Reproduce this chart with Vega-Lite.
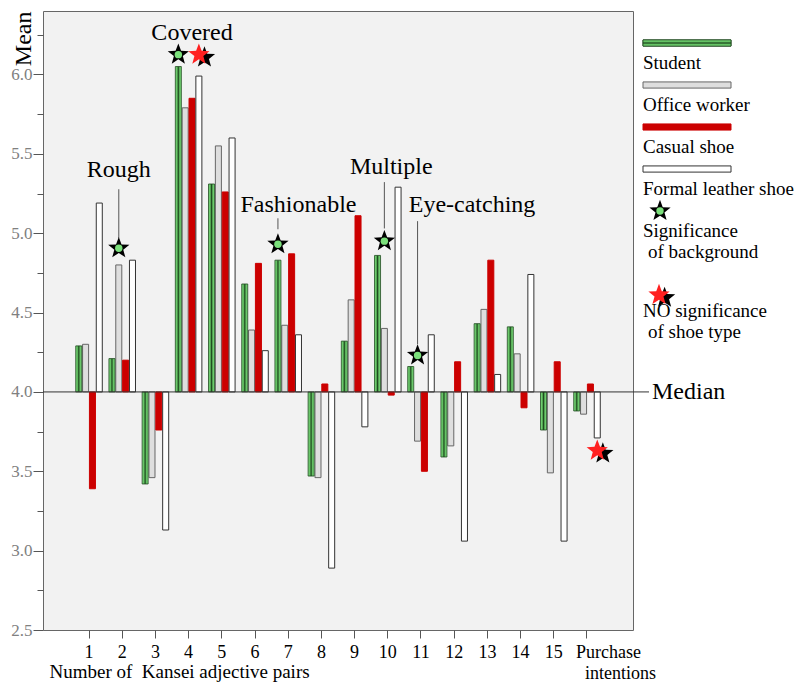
{
  "$schema": "https://vega.github.io/schema/vega-lite/v6.json",
  "padding": {"left": 10, "top": 10, "right": 0, "bottom": 0},
  "bounds": "flush",
  "spacing": 10,
  "config": {"view": {"stroke": null}, "font": "Liberation Serif"},
  "datasets": {
    "bars": [
      {"g":"1","s":"Student","v":4.29},{"g":"1","s":"Office worker","v":4.30},{"g":"1","s":"Casual shoe","v":3.39},{"g":"1","s":"Formal leather shoe","v":5.19},
      {"g":"2","s":"Student","v":4.21},{"g":"2","s":"Office worker","v":4.80},{"g":"2","s":"Casual shoe","v":4.20},{"g":"2","s":"Formal leather shoe","v":4.83},
      {"g":"3","s":"Student","v":3.42},{"g":"3","s":"Office worker","v":3.46},{"g":"3","s":"Casual shoe","v":3.76},{"g":"3","s":"Formal leather shoe","v":3.13},
      {"g":"4","s":"Student","v":6.05},{"g":"4","s":"Office worker","v":5.79},{"g":"4","s":"Casual shoe","v":5.85},{"g":"4","s":"Formal leather shoe","v":5.99},
      {"g":"5","s":"Student","v":5.31},{"g":"5","s":"Office worker","v":5.55},{"g":"5","s":"Casual shoe","v":5.26},{"g":"5","s":"Formal leather shoe","v":5.60},
      {"g":"6","s":"Student","v":4.68},{"g":"6","s":"Office worker","v":4.39},{"g":"6","s":"Casual shoe","v":4.81},{"g":"6","s":"Formal leather shoe","v":4.26},
      {"g":"7","s":"Student","v":4.83},{"g":"7","s":"Office worker","v":4.42},{"g":"7","s":"Casual shoe","v":4.87},{"g":"7","s":"Formal leather shoe","v":4.36},
      {"g":"8","s":"Student","v":3.47},{"g":"8","s":"Office worker","v":3.46},{"g":"8","s":"Casual shoe","v":4.05},{"g":"8","s":"Formal leather shoe","v":2.89},
      {"g":"9","s":"Student","v":4.32},{"g":"9","s":"Office worker","v":4.58},{"g":"9","s":"Casual shoe","v":5.11},{"g":"9","s":"Formal leather shoe","v":3.78},
      {"g":"10","s":"Student","v":4.86},{"g":"10","s":"Office worker","v":4.40},{"g":"10","s":"Casual shoe","v":3.98},{"g":"10","s":"Formal leather shoe","v":5.29},
      {"g":"11","s":"Student","v":4.16},{"g":"11","s":"Office worker","v":3.69},{"g":"11","s":"Casual shoe","v":3.50},{"g":"11","s":"Formal leather shoe","v":4.36},
      {"g":"12","s":"Student","v":3.59},{"g":"12","s":"Office worker","v":3.66},{"g":"12","s":"Casual shoe","v":4.19},{"g":"12","s":"Formal leather shoe","v":3.06},
      {"g":"13","s":"Student","v":4.43},{"g":"13","s":"Office worker","v":4.52},{"g":"13","s":"Casual shoe","v":4.83},{"g":"13","s":"Formal leather shoe","v":4.11},
      {"g":"14","s":"Student","v":4.41},{"g":"14","s":"Office worker","v":4.24},{"g":"14","s":"Casual shoe","v":3.90},{"g":"14","s":"Formal leather shoe","v":4.74},
      {"g":"15","s":"Student","v":3.76},{"g":"15","s":"Office worker","v":3.49},{"g":"15","s":"Casual shoe","v":4.19},{"g":"15","s":"Formal leather shoe","v":3.06},
      {"g":"Purchase intentions","s":"Student","v":3.88},{"g":"Purchase intentions","s":"Office worker","v":3.86},{"g":"Purchase intentions","s":"Casual shoe","v":4.05},{"g":"Purchase intentions","s":"Formal leather shoe","v":3.71}
    ],
    "stars": [
      {"g":"2","s":"Office worker","v":4.905,"t":"bg"},
      {"g":"4","s":"Student","v":6.125,"t":"bg"},
      {"g":"4","s":"Formal leather shoe","v":6.125,"t":"shoe"},
      {"g":"7","s":"Student","v":4.93,"t":"bg"},
      {"g":"10","s":"Office worker","v":4.95,"t":"bg"},
      {"g":"11","s":"Office worker","v":4.23,"t":"bg"},
      {"g":"Purchase intentions","s":"Formal leather shoe","v":3.63,"t":"shoe"}
    ],
    "lines": [
      {"g":"2","s":"Office worker","a":5.277,"b":4.968},
      {"g":"7","s":"Student","a":5.094,"b":5.025},
      {"g":"10","s":"Office worker","a":5.322,"b":5.03},
      {"g":"11","s":"Office worker","a":5.076,"b":4.30}
    ],
    "notes": [
      {"g":"2","s":"Office worker","v":5.353,"text":"Rough","al":"c"},
      {"g":"4","s":"Casual shoe","v":6.216,"text":"Covered","al":"c"},
      {"g":"7","s":"Formal leather shoe","v":5.132,"text":"Fashionable","al":"c"},
      {"g":"10","s":"Casual shoe","v":5.371,"text":"Multiple","al":"c"},
      {"g":"11","s":"Student","v":5.135,"text":"Eye-catching","al":"l"}
    ],
    "legend": [
      {"slot":0,"kind":"sw","s":"Student"},
      {"slot":1,"kind":"tx","label":"Student"},
      {"slot":2,"kind":"sw","s":"Office worker"},
      {"slot":3,"kind":"tx","label":"Office worker"},
      {"slot":4,"kind":"sw","s":"Casual shoe"},
      {"slot":5,"kind":"tx","label":"Casual shoe"},
      {"slot":6,"kind":"sw","s":"Formal leather shoe"},
      {"slot":7,"kind":"tx","label":"Formal leather shoe"},
      {"slot":8,"kind":"bg"},
      {"slot":9,"kind":"tx","label":"Significance"},
      {"slot":10,"kind":"tx2","label":"of background"},
      {"slot":12,"kind":"shoe"},
      {"slot":12.8,"kind":"tx","label":"NO significance"},
      {"slot":13.8,"kind":"tx2","label":"of shoe type"}
    ]
  },
  "hconcat": [
    {
      "width": 590,
      "height": 619,
      "view": {"fill": "#f2f2f2", "stroke": "#666666", "strokeWidth": 1},
      "resolve": {"axis": {"y": "independent"}},
      "layer": [
        {
          "data": {"name": "bars"},
          "transform": [{"filter": "datum.s != 'Student'"}],
          "mark": {"type": "bar", "strokeWidth": 1},
          "encoding": {
            "x": {
              "field": "g", "type": "nominal",
              "scale": {"domain": ["1","2","3","4","5","6","7","8","9","10","11","12","13","14","15","Purchase intentions"], "paddingInner": 0.2, "paddingOuter": 0.986},
              "axis": {
                "labelExpr": "datum.value == 'Purchase intentions' ? ['Purchase', '\u200b\u00a0\u00a0intentions'] : datum.value",
                "labelAngle": 0, "labelFontSize": 18, "labelColor": "#000000", "labelPadding": 5, "labelLineHeight": 21,
                "labelFont": "Liberation Serif", "labelBaseline": "top", "labelOverlap": false,
                "labelAlign": {"condition": {"test": "datum.value == 'Purchase intentions'", "value": "left"}, "value": "center"},
                "labelOffset": {"condition": {"test": "datum.value == 'Purchase intentions'", "value": -11}, "value": 0},
                "ticks": true, "tickSize": 8, "tickColor": "#555555", "tickWidth": 1, "domain": false, "grid": false,
                "title": "Number of\u00a0 Kansei adjective pairs", "titleFont": "Liberation Serif", "titleFontSize": 19, "titleFontWeight": "normal", "titleColor": "#000000",
                "titleAnchor": "start", "titleAlign": "left", "titleX": 6, "titleY": 47, "titleBaseline": "alphabetic"
              }
            },
            "xOffset": {"field": "s", "type": "nominal", "scale": {"domain": ["Student","Office worker","Casual shoe","Formal leather shoe"], "paddingInner": 0.12, "paddingOuter": 0}},
            "y": {
              "field": "v", "type": "quantitative",
              "scale": {"domain": [2.5, 6.4], "nice": false, "zero": false},
              "axis": {
                "values": [2.5, 3, 3.5, 4, 4.5, 5, 5.5, 6],
                "format": ".1f",
                "ticks": true, "tickSize": 10,
                "tickColor": "#555555", "tickWidth": 1, "domain": false, "grid": false,
                "labelFontSize": 17, "labelColor": "#808080", "labelPadding": 1, "labelOverlap": false, "labelFont": "Liberation Serif",
                "title": "Mean", "titleFont": "Liberation Serif", "titleFontSize": 24, "titleFontWeight": "normal", "titleColor": "#000000",
                "titleAngle": -90, "titleX": -13, "titleY": 0, "titleAlign": "right", "titleBaseline": "alphabetic"
              }
            },
            "y2": {"datum": 4},
            "fill": {"field": "s", "type": "nominal", "scale": {"domain": ["Student","Office worker","Casual shoe","Formal leather shoe"], "range": ["#6fcf6f", "#dedede", "#cc0000", "#ffffff"]}, "legend": null},
            "stroke": {"field": "s", "type": "nominal", "scale": {"domain": ["Student","Office worker","Casual shoe","Formal leather shoe"], "range": ["#1f4a1f", "#666666", "#cc0000", "#333333"]}, "legend": null}
          }
        },
        {
          "data": {"name": "bars"},
          "transform": [{"filter": "datum.s == 'Student'"}],
          "mark": {
            "type": "bar", "stroke": "#1f4a1f", "strokeWidth": 0.8,
            "fill": {"gradient": "linear", "x1": 0, "y1": 0, "x2": 1, "y2": 0, "stops": [
              {"offset": 0, "color": "#80dd80"}, {"offset": 0.28, "color": "#62c062"}, {"offset": 0.5, "color": "#1f4a1f"}, {"offset": 0.72, "color": "#62c062"}, {"offset": 1, "color": "#80dd80"}]}
          },
          "encoding": {
            "x": {"field": "g", "type": "nominal"},
            "xOffset": {"field": "s", "type": "nominal"},
            "y": {"field": "v", "type": "quantitative",
              "axis": {"orient": "left", "values": [2.75, 3.25, 3.75, 4.25, 4.75, 5.25, 5.75, 6.25], "labels": false, "ticks": true, "tickSize": 6, "tickColor": "#555555", "tickWidth": 1, "domain": false, "grid": false, "title": null}},
            "y2": {"datum": 4}
          }
        },
        {
          "data": {"values": [{}]},
          "mark": {"type": "rule", "x": 0, "x2": {"expr": "concat_0_width + 16"}, "color": "#333333", "strokeWidth": 1, "clip": false},
          "encoding": {"y": {"datum": 4, "axis": null}}
        },
        {
          "data": {"values": [{}]},
          "mark": {"type": "text", "text": "Median", "x": {"expr": "concat_0_width + 19"}, "align": "left", "baseline": "middle", "fontSize": 24, "font": "Liberation Serif", "color": "#000000"},
          "encoding": {"y": {"datum": 4, "axis": null}}
        },
        {
          "data": {"name": "lines"},
          "mark": {"type": "rule", "color": "#555555", "strokeWidth": 1},
          "encoding": {
            "x": {"field": "g", "type": "nominal"},
            "xOffset": {"field": "s", "type": "nominal"},
            "y": {"field": "a", "type": "quantitative", "axis": null},
            "y2": {"field": "b"}
          }
        },
        {
          "data": {"name": "stars"},
          "transform": [{"filter": "datum.t == 'bg'"}],
          "mark": {"type": "point", "filled": true, "opacity": 1, "strokeWidth": 0, "size": 500, "color": "#000000",
            "shape": "M0,-1L0.247,-0.34L0.951,-0.309L0.399,0.13L0.588,0.809L0,0.42L-0.588,0.809L-0.399,0.13L-0.951,-0.309L-0.247,-0.34Z"},
          "encoding": {
            "x": {"field": "g", "type": "nominal"},
            "xOffset": {"field": "s", "type": "nominal"},
            "y": {"field": "v", "type": "quantitative", "axis": null}
          }
        },
        {
          "data": {"name": "stars"},
          "transform": [{"filter": "datum.t == 'bg'"}],
          "mark": {"type": "point", "filled": true, "opacity": 1, "strokeWidth": 0, "size": 55, "shape": "circle", "color": "#7be07b"},
          "encoding": {
            "x": {"field": "g", "type": "nominal"},
            "xOffset": {"field": "s", "type": "nominal"},
            "y": {"field": "v", "type": "quantitative", "axis": null}
          }
        },
        {
          "data": {"name": "stars"},
          "transform": [{"filter": "datum.t == 'shoe'"}],
          "mark": {"type": "point", "filled": true, "opacity": 1, "strokeWidth": 0, "size": 500, "color": "#000000",
            "shape": "M0.5,-0.75L0.747,-0.09L1.451,-0.059L0.899,0.38L1.088,1.059L0.5,0.67L-0.088,1.059L0.101,0.38L-0.451,-0.059L0.253,-0.09Z"},
          "encoding": {
            "x": {"field": "g", "type": "nominal"},
            "xOffset": {"field": "s", "type": "nominal"},
            "y": {"field": "v", "type": "quantitative", "axis": null}
          }
        },
        {
          "data": {"name": "stars"},
          "transform": [{"filter": "datum.t == 'shoe'"}],
          "mark": {"type": "point", "filled": true, "opacity": 1, "strokeWidth": 0, "size": 500, "color": "#ff2020",
            "shape": "M0,-1L0.247,-0.34L0.951,-0.309L0.399,0.13L0.588,0.809L0,0.42L-0.588,0.809L-0.399,0.13L-0.951,-0.309L-0.247,-0.34Z"},
          "encoding": {
            "x": {"field": "g", "type": "nominal"},
            "xOffset": {"field": "s", "type": "nominal"},
            "y": {"field": "v", "type": "quantitative", "axis": null}
          }
        },
        {
          "data": {"name": "notes"},
          "transform": [{"filter": "datum.al == 'c'"}],
          "mark": {"type": "text", "align": "center", "baseline": "alphabetic", "fontSize": 24, "font": "Liberation Serif", "color": "#000000"},
          "encoding": {
            "x": {"field": "g", "type": "nominal"},
            "xOffset": {"field": "s", "type": "nominal"},
            "y": {"field": "v", "type": "quantitative", "axis": null},
            "text": {"field": "text"}
          }
        },
        {
          "data": {"name": "notes"},
          "transform": [{"filter": "datum.al == 'l'"}],
          "mark": {"type": "text", "align": "left", "baseline": "alphabetic", "fontSize": 24, "font": "Liberation Serif", "color": "#000000", "dx": -2},
          "encoding": {
            "x": {"field": "g", "type": "nominal"},
            "xOffset": {"field": "s", "type": "nominal"},
            "y": {"field": "v", "type": "quantitative", "axis": null},
            "text": {"field": "text"}
          }
        }
      ]
    },
    {
      "width": 88,
      "height": 619,
      "data": {"name": "legend"},
      "encoding": {
        "y": {"field": "slot", "type": "quantitative", "scale": {"domain": [-1.524, 27.95], "reverse": true, "nice": false, "zero": false}, "axis": null}
      },
      "layer": [
        {
          "transform": [{"filter": "datum.kind == 'sw'"}],
          "mark": {"type": "point", "filled": true, "opacity": 1, "strokeWidth": 1, "size": 7744, "shape": "M-1,-0.07L1,-0.07L1,0.07L-1,0.07Z"},
          "encoding": {
            "x": {"datum": 44, "type": "quantitative", "scale": {"domain": [0, 88], "nice": false, "zero": false}, "axis": null},
            "fill": {"field": "s", "type": "nominal", "scale": {"domain": ["Student","Office worker","Casual shoe","Formal leather shoe"], "range": ["#6fcf6f", "#dedede", "#cc0000", "#ffffff"]}, "legend": null},
            "stroke": {"field": "s", "type": "nominal", "scale": {"domain": ["Student","Office worker","Casual shoe","Formal leather shoe"], "range": ["#1f4a1f", "#666666", "#cc0000", "#333333"]}, "legend": null}
          }
        },
        {
          "transform": [{"filter": "datum.s == 'Student'"}],
          "mark": {"type": "point", "filled": true, "opacity": 1, "strokeWidth": 0.8, "stroke": "#1f4a1f", "size": 7744, "shape": "M-1,-0.07L1,-0.07L1,0.07L-1,0.07Z",
            "fill": {"gradient": "linear", "x1": 0, "y1": 0, "x2": 0, "y2": 1, "stops": [
              {"offset": 0, "color": "#80dd80"}, {"offset": 0.28, "color": "#62c062"}, {"offset": 0.5, "color": "#1f4a1f"}, {"offset": 0.72, "color": "#62c062"}, {"offset": 1, "color": "#80dd80"}]}},
          "encoding": {"x": {"datum": 44, "type": "quantitative"}}
        },
        {
          "transform": [{"filter": "datum.kind == 'tx'"}],
          "mark": {"type": "text", "align": "left", "baseline": "middle", "fontSize": 19, "font": "Liberation Serif", "color": "#000000", "dy": -1},
          "encoding": {"x": {"datum": 0, "type": "quantitative"}, "text": {"field": "label"}}
        },
        {
          "transform": [{"filter": "datum.kind == 'tx2'"}],
          "mark": {"type": "text", "align": "left", "baseline": "middle", "fontSize": 19, "font": "Liberation Serif", "color": "#000000", "dy": -1, "dx": 5},
          "encoding": {"x": {"datum": 0, "type": "quantitative"}, "text": {"field": "label"}}
        },
        {
          "transform": [{"filter": "datum.kind == 'bg'"}],
          "mark": {"type": "point", "filled": true, "opacity": 1, "strokeWidth": 0, "size": 500, "color": "#000000",
            "shape": "M0,-1L0.247,-0.34L0.951,-0.309L0.399,0.13L0.588,0.809L0,0.42L-0.588,0.809L-0.399,0.13L-0.951,-0.309L-0.247,-0.34Z"},
          "encoding": {"x": {"datum": 17, "type": "quantitative"}}
        },
        {
          "transform": [{"filter": "datum.kind == 'bg'"}],
          "mark": {"type": "point", "filled": true, "opacity": 1, "strokeWidth": 0, "size": 55, "shape": "circle", "color": "#7be07b"},
          "encoding": {"x": {"datum": 17, "type": "quantitative"}}
        },
        {
          "transform": [{"filter": "datum.kind == 'shoe'"}],
          "mark": {"type": "point", "filled": true, "opacity": 1, "strokeWidth": 0, "size": 500, "color": "#000000",
            "shape": "M0.5,-0.75L0.747,-0.09L1.451,-0.059L0.899,0.38L1.088,1.059L0.5,0.67L-0.088,1.059L0.101,0.38L-0.451,-0.059L0.253,-0.09Z"},
          "encoding": {"x": {"datum": 16, "type": "quantitative"}}
        },
        {
          "transform": [{"filter": "datum.kind == 'shoe'"}],
          "mark": {"type": "point", "filled": true, "opacity": 1, "strokeWidth": 0, "size": 500, "color": "#ff2020",
            "shape": "M0,-1L0.247,-0.34L0.951,-0.309L0.399,0.13L0.588,0.809L0,0.42L-0.588,0.809L-0.399,0.13L-0.951,-0.309L-0.247,-0.34Z"},
          "encoding": {"x": {"datum": 16, "type": "quantitative"}}
        }
      ]
    }
  ]
}
